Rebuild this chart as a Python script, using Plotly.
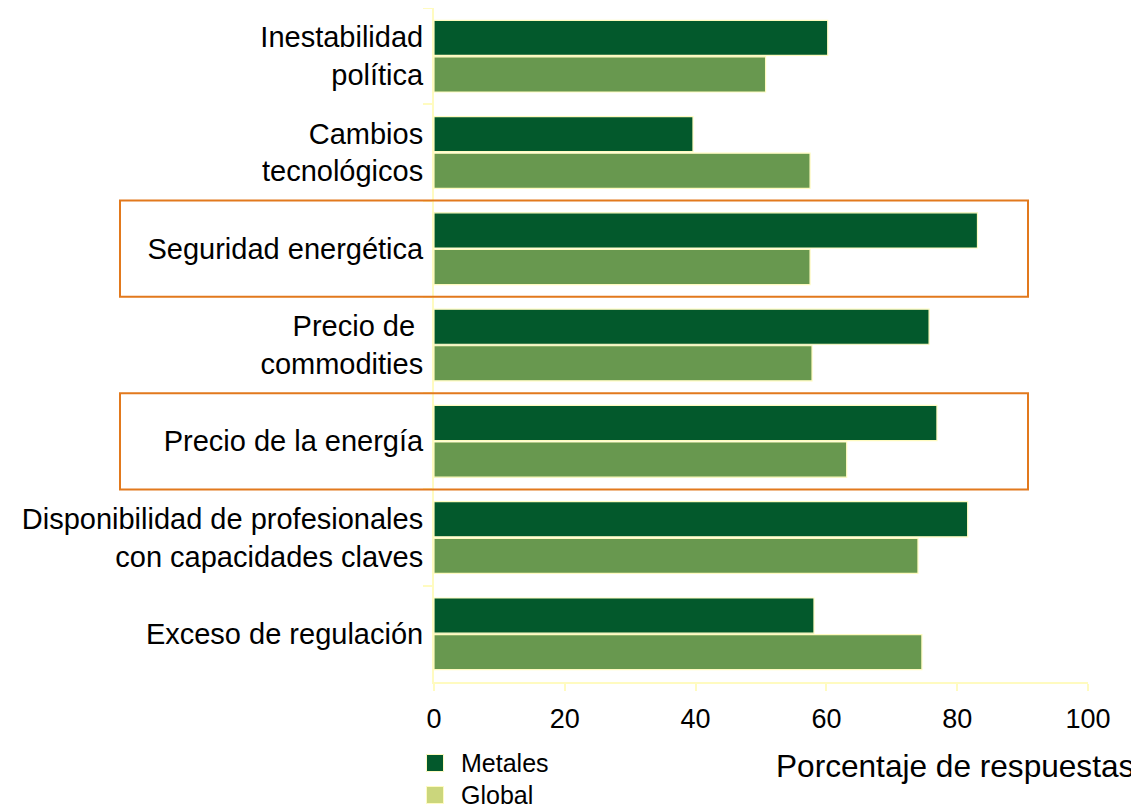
import plotly.graph_objects as go

categories = [
    "Inestabilidad<br>política",
    "Cambios<br>tecnológicos",
    "Seguridad energética",
    "Precio de <br>commodities",
    "Precio de la energía",
    "Disponibilidad de profesionales<br>con capacidades claves",
    "Exceso de regulación",
]
metales = [60.2, 39.6, 83.1, 75.7, 76.9, 81.6, 58.1]
global_vals = [50.7, 57.5, 57.5, 57.8, 63.1, 74.0, 74.6]
highlighted = ["Seguridad energética", "Precio de la energía"]
x_ticks = [0, 20, 40, 60, 80, 100]
series_names = ["Metales", "Global"]

C_MET = "#03592c"
C_GLO = "#68984f"
C_GLO_LEG = "#cbd67c"
C_AXIS = "#fffbc0"
C_BOX = "#e2791d"
FONT = "Arial, Liberation Sans, sans-serif"
legend_colors = [C_MET, C_GLO_LEG]

# page body has an 8px margin: the figure starts at (8, 8) in the window
OFF = 8
W, H = 1139 - OFF, 809 - OFF
PL, PR, PT, PB = 434, 1088, 8, 682          # plot area in window pixels
ml, mr, mt, mb = PL - OFF, 1139 - PR, PT - OFF, 809 - PB

pw = PR - PL
ph = PB - PT
def px_to_paper_x(p):
    return (p - PL) / pw
def px_to_paper_y(p):
    return (PB - p) / ph

fig = go.Figure()
fig.add_trace(go.Bar(y=categories, x=metales, orientation="h", name=series_names[0],
                     marker=dict(color=C_MET, line=dict(color=C_AXIS, width=1.2)),
                     showlegend=False))
fig.add_trace(go.Bar(y=categories, x=global_vals, orientation="h", name=series_names[1],
                     marker=dict(color=C_GLO, line=dict(color=C_AXIS, width=1.2)),
                     showlegend=False))

for cat in highlighted:
    i = categories.index(cat)
    fig.add_shape(type="rect", xref="paper", yref="y",
                  x0=px_to_paper_x(120), x1=px_to_paper_x(1028),
                  y0=i - 0.5, y1=i + 0.5,
                  line=dict(color=C_BOX, width=2), layer="above")

# legend (swatches + labels) below the axis
leg_cx, leg_tx = 435, 459
leg_cy = [763, 795]
half = 8.5
for name, col, cy in zip(series_names, legend_colors, leg_cy):
    fig.add_shape(type="rect", xref="paper", yref="paper",
                  x0=px_to_paper_x(leg_cx - half), x1=px_to_paper_x(leg_cx + half),
                  y0=px_to_paper_y(cy + half), y1=px_to_paper_y(cy - half),
                  fillcolor=col, line=dict(color=C_AXIS, width=1))
    fig.add_annotation(text=name, xref="paper", yref="paper",
                       x=px_to_paper_x(leg_tx), y=px_to_paper_y(cy),
                       xanchor="left", yanchor="middle", showarrow=False,
                       font=dict(size=25, color="black", family=FONT))

fig.add_annotation(text="Porcentaje de respuestas", xref="paper", yref="paper",
                   x=px_to_paper_x(1136), y=px_to_paper_y(766),
                   xanchor="right", yanchor="middle", showarrow=False,
                   font=dict(size=31.6, color="black", family=FONT))

fig.update_layout(
    width=W, height=H,
    margin=dict(l=ml, r=mr, t=mt, b=mb, autoexpand=False),
    paper_bgcolor="white", plot_bgcolor="white",
    barmode="group", bargap=0.24, bargroupgap=0.04,
    font=dict(family=FONT, size=29, color="black"),
    showlegend=False,
    xaxis=dict(range=[0, 100], tickvals=x_ticks, showgrid=False, zeroline=False,
               showline=True, linecolor=C_AXIS, linewidth=2,
               ticks="outside", ticklen=7, tickcolor=C_AXIS, tickwidth=2,
               ticklabelstandoff=5,
               tickfont=dict(size=27, color="black", family=FONT)),
    yaxis=dict(categoryorder="array", categoryarray=categories, autorange="reversed",
               showgrid=False, zeroline=False, showline=True, linecolor=C_AXIS, linewidth=2,
               ticks="outside", ticklen=9, tickcolor=C_AXIS, tickwidth=2,
               tickson="boundaries", ticklabelstandoff=3,
               tickfont=dict(size=29, color="black", family=FONT)),
)

fig.write_html("out.html")
